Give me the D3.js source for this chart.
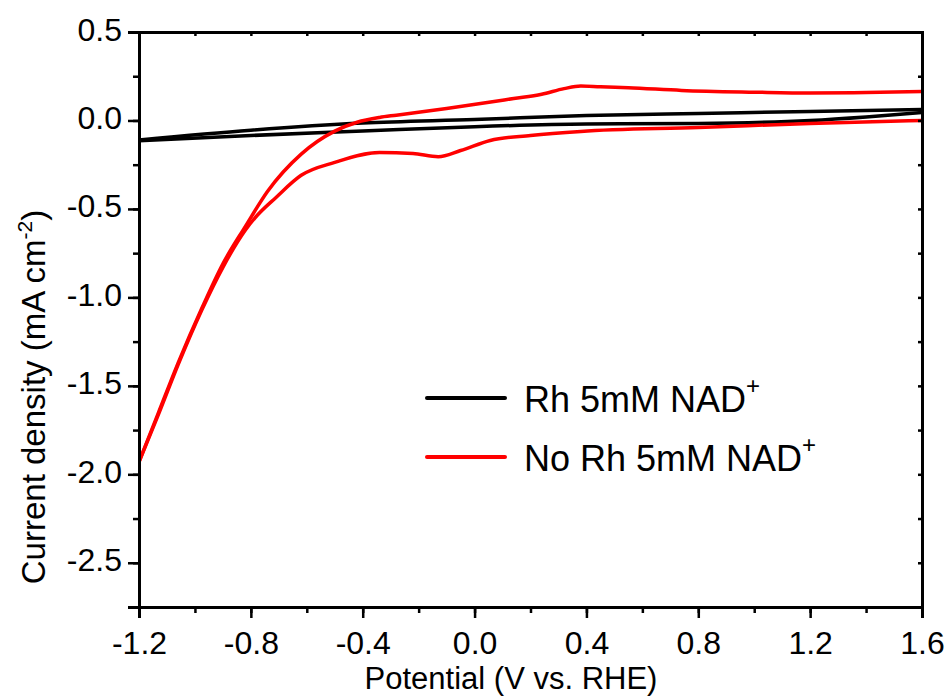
<!DOCTYPE html>
<html>
<head>
<meta charset="utf-8">
<script src="https://cdn.jsdelivr.net/npm/d3@7"></script>
<style>
  body { margin: 0; background: #fff; }
  text { font-family: Arial, "Liberation Sans", sans-serif; fill: #000; }
</style>
</head>
<body>
<svg id="chart"></svg>
<script>
// Rh 5mM NAD+ (black CV, two branches)
const rhUpperV = [-1.2, -0.8, -0.4, 0.0, 0.4, 0.8, 1.2, 1.6];
const rhUpperJ = [-0.11, -0.055, -0.015, 0.005, 0.028, 0.04, 0.05, 0.062];
const rhLowerV = [-1.2, -0.8, -0.4, 0.0, 0.4, 0.8, 1.2, 1.4, 1.6];
const rhLowerJ = [-0.115, -0.085, -0.06, -0.035, -0.02, -0.017, 0.0, 0.02, 0.045];

// No Rh 5mM NAD+ (red CV)
const noRhUpperV = [-1.2, -1.13, -1.06, -0.975, -0.9, -0.82, -0.74, -0.62, -0.5, -0.42, -0.34, -0.28, -0.1, 0.14, 0.24, 0.32, 0.38, 0.45, 0.55, 0.74, 1.0, 1.2, 1.4, 1.6];
const noRhUpperJ = [-1.93, -1.65, -1.37, -1.06, -0.81, -0.6, -0.4, -0.19, -0.06, -0.01, 0.017, 0.03, 0.068, 0.124, 0.148, 0.18, 0.195, 0.19, 0.185, 0.17, 0.16, 0.155, 0.158, 0.164];
const noRhLowerV = [-1.2, -1.13, -1.06, -0.975, -0.9, -0.82, -0.785, -0.71, -0.62, -0.5, -0.34, -0.22, -0.13, -0.05, 0.056, 0.2, 0.38, 0.8, 1.2, 1.6];
const noRhLowerJ = [-1.93, -1.66, -1.38, -1.07, -0.83, -0.62, -0.55, -0.435, -0.31, -0.237, -0.181, -0.187, -0.205, -0.17, -0.113, -0.085, -0.062, -0.04, -0.017, 0.0];

const xTicks = [-1.2, -0.8, -0.4, 0.0, 0.4, 0.8, 1.2, 1.6];
const yTicks = [0.5, 0.0, -0.5, -1.0, -1.5, -2.0, -2.5];
const legendLabels = ['Rh 5mM NAD', 'No Rh 5mM NAD'];

const width = 951, height = 697;
const margin = { left: 139, right: 29, top: 32, bottom: 90 };
const svg = d3.select('#chart').attr('width', width).attr('height', height);

const x = d3.scaleLinear().domain([-1.2, 1.6]).range([margin.left, width - margin.right]);
const y = d3.scaleLinear().domain([-2.75, 0.5]).range([height - margin.bottom, margin.top]);

svg.append('clipPath').attr('id', 'clip').append('rect')
    .attr('x', x(-1.2)).attr('y', y(0.5)).attr('width', x(1.6) - x(-1.2)).attr('height', y(-2.75) - y(0.5));

const line = d3.line().x(d => x(d[0])).y(d => y(d[1])).curve(d3.curveMonotoneX);
const series = [
    { v: rhUpperV, j: rhUpperJ, color: '#000' },
    { v: rhLowerV, j: rhLowerJ, color: '#000' },
    { v: noRhUpperV, j: noRhUpperJ, color: '#ff0000' },
    { v: noRhLowerV, j: noRhLowerJ, color: '#ff0000' }
];
svg.append('g').attr('clip-path', 'url(#clip)').selectAll('path').data(series).enter().append('path')
    .attr('d', s => line(s.v.map((v, i) => [v, s.j[i]])))
    .attr('fill', 'none').attr('stroke', s => s.color).attr('stroke-width', 3.5)
    .attr('stroke-linejoin', 'round');

// axes
const fmt = d => d3.format('.1f')(d).replace('\u2212', '-');
const xMinor = d3.range(-1.2, 1.61, 0.2);
const yMinor = d3.range(-2.75, 0.51, 0.25);

svg.append('g').attr('transform', `translate(0,${y(-2.75)})`)
    .call(d3.axisBottom(x).tickValues(xMinor).tickSize(6).tickFormat(''));
svg.append('g').attr('transform', `translate(0,${y(-2.75)})`)
    .call(d3.axisBottom(x).tickValues(xTicks).tickSize(11).tickPadding(13).tickFormat(fmt));
svg.append('g').attr('transform', `translate(0,${y(0.5)})`)
    .call(d3.axisTop(x).tickValues(xMinor).tickSize(-4).tickFormat(''));

svg.append('g').attr('transform', `translate(${x(-1.2)},0)`)
    .call(d3.axisLeft(y).tickValues(yMinor).tickSize(6).tickFormat(''));
const yAxis = svg.append('g').attr('transform', `translate(${x(-1.2)},0)`)
    .call(d3.axisLeft(y).tickValues(yTicks).tickSize(11).tickPadding(6).tickFormat(fmt));
svg.append('g').attr('transform', `translate(${x(1.6)},0)`)
    .call(d3.axisRight(y).tickValues(yMinor).tickSize(-4).tickFormat(''));

svg.selectAll('.domain').attr('stroke', '#000').attr('stroke-width', 3);
svg.selectAll('.tick line').attr('stroke', '#000').attr('stroke-width', 2.5);
svg.selectAll('.tick text').attr('font-size', 32).attr('font-family', 'Arial, "Liberation Sans", sans-serif').attr('fill', '#000');
yAxis.selectAll('.tick text').attr('dy', '0.25em');

// titles
svg.append('text').attr('x', 511).attr('y', 689).attr('text-anchor', 'middle').attr('font-size', 31)
    .text('Potential (V vs. RHE)');
const yt = svg.append('text').attr('transform', 'translate(45,397) rotate(-90)').attr('text-anchor', 'middle').attr('font-size', 33);
yt.append('tspan').text('Current density (mA cm');
yt.append('tspan').attr('font-size', 21).attr('dy', -13).text('-2');
yt.append('tspan').attr('dy', 13).text(')');

// legend
const legend = svg.append('g').selectAll('g').data(legendLabels).enter().append('g')
    .attr('transform', (d, i) => `translate(427,${398 + i * 59})`);
legend.append('line').attr('x1', 0).attr('x2', 78).attr('stroke', (d, i) => i === 0 ? '#000' : '#ff0000')
    .attr('stroke-width', 4).attr('stroke-linecap', 'round');
const lt = legend.append('text').attr('x', 97).attr('y', 14).attr('font-size', 36);
lt.append('tspan').text(d => d);
lt.append('tspan').attr('font-size', 24).attr('dy', -18).text('+');
</script>
</body>
</html>
